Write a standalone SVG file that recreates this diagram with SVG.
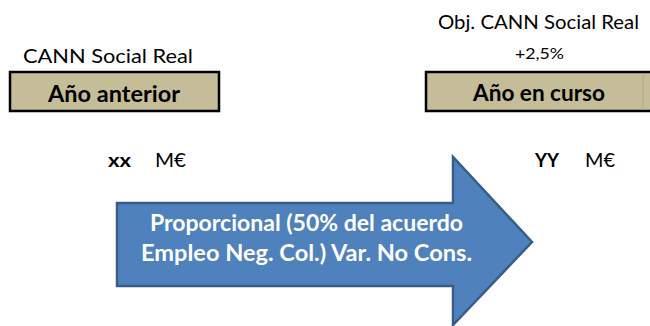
<svg xmlns="http://www.w3.org/2000/svg" width="650" height="326" viewBox="0 0 650 326">
<style>
text{font-family:Lato,"Open Sans","Liberation Sans",sans-serif;fill:#000}
.box{fill:#C4BD97;stroke:#000;stroke-width:2.5}
.hd{font-size:22px;font-weight:bold;text-anchor:middle}
.lbl{font-size:20px}
.b{font-weight:bold;font-size:19px}
.m{font-size:18.5px}
.at{fill:#fff;font-size:23px;font-weight:bold;text-anchor:middle}
</style>
<rect width="650" height="326" fill="#fff"/>
<g id="prev">
<text class="lbl" x="23" y="63" textLength="170" lengthAdjust="spacingAndGlyphs">CANN Social Real</text>
<rect class="box" x="10" y="72" width="209" height="39"/>
<text class="hd" x="114" y="102" textLength="132" lengthAdjust="spacingAndGlyphs">Año anterior</text>
<text class="b" x="108" y="167" textLength="23" lengthAdjust="spacingAndGlyphs">xx</text>
<text class="m" x="155" y="167" textLength="31" lengthAdjust="spacingAndGlyphs">M€</text>
</g>
<g id="curr">
<text class="lbl" x="438" y="29" textLength="201" lengthAdjust="spacingAndGlyphs">Obj. CANN Social Real</text>
<text x="539.5" y="59" style="font-size:15px;text-anchor:middle" textLength="49" lengthAdjust="spacingAndGlyphs">+2,5%</text>
<rect class="box" x="426" y="72" width="230" height="39"/>
<line x1="643" y1="73" x2="643" y2="110" stroke="#b0aa88" stroke-width="1"/>
<text class="hd" x="539" y="101" textLength="132" lengthAdjust="spacingAndGlyphs">Año en curso</text>
<text class="b" x="535" y="167" textLength="24" lengthAdjust="spacingAndGlyphs">YY</text>
<text class="m" x="585" y="167" textLength="30" lengthAdjust="spacingAndGlyphs">M€</text>
</g>
<g id="connectors">
<g id="arrow">
<polygon points="117,203 453,203 453,157 532,242 453,325 453,286 117,286" fill="#4F81BD" stroke="#385D8A" stroke-width="2.5"/>
<text class="at" x="306.5" y="231" textLength="313" lengthAdjust="spacingAndGlyphs">Proporcional (50% del acuerdo</text>
<text class="at" x="306.5" y="261" textLength="331" lengthAdjust="spacingAndGlyphs">Empleo Neg. Col.) Var. No Cons.</text>
</g>
</g>
</svg>
